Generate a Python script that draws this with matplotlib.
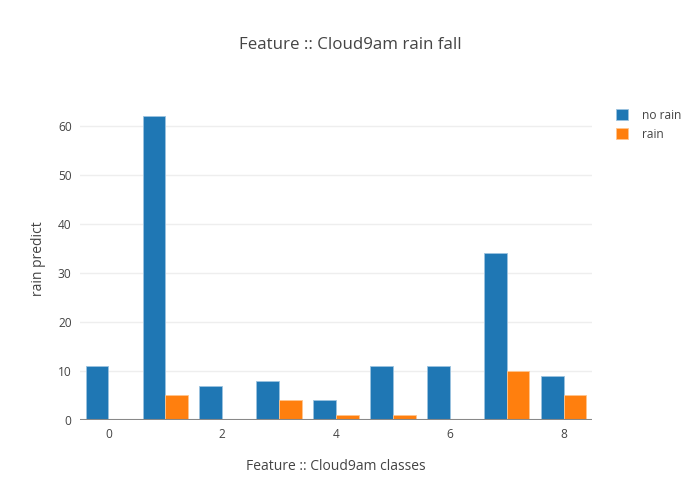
import numpy as np
import matplotlib.pyplot as plt

classes = np.arange(9)
no_rain = [11, 62, 7, 8, 4, 11, 11, 34, 9]
rain = [0, 5, 0, 4, 1, 1, 0, 10, 5]

plt.rcParams['font.family'] = ['Open Sans', 'DejaVu Sans']

fig = plt.figure(figsize=(7, 5), dpi=100)
ax = fig.add_axes([80/700, 80/500, 512/700, 320/500])

w = 0.4
ax.bar(classes - w/2, no_rain, width=w, color='#1f77b4', edgecolor='#9cc3e0', linewidth=0.6, label='no rain', zorder=3)
ax.bar(classes + w/2, rain, width=w, color='#ff7f0e', edgecolor='#ffc58e', linewidth=0.6, label='rain', zorder=3)

ax.set_xlim(-0.5, 8.5)
ax.set_ylim(0, 65.3)
ax.set_xticks([0, 2, 4, 6, 8])
ax.set_yticks([0, 10, 20, 30, 40, 50, 60])
ax.grid(axis='y', color='#eeeeee', linewidth=1, zorder=0)
ax.axhline(0, color='#888888', linewidth=1.5, zorder=4)
for s in ax.spines.values():
    s.set_visible(False)
ax.tick_params(length=0, labelsize=8.6, colors='#444444', pad=6)

fig.text(0.5, 1 - 45/500, 'Feature :: Cloud9am rain fall', ha='center', va='center', fontsize=12.2, color='#444444')
fig.text(336/700, 1 - 467/500, 'Feature :: Cloud9am classes', ha='center', va='center', fontsize=10, color='#444444')
fig.text(38/700, 1 - 259/500, 'rain predict', ha='center', va='center', rotation=90, fontsize=10, color='#444444')

leg = fig.legend(loc='upper left', bbox_to_anchor=(605/700, 1 - 98/500), frameon=False,
                 fontsize=8.6, handlelength=1.0, handleheight=1.0, labelcolor='#444444',
                 handletextpad=1.2, labelspacing=0.5)

fig.savefig('out.png', dpi=100, facecolor='white')
